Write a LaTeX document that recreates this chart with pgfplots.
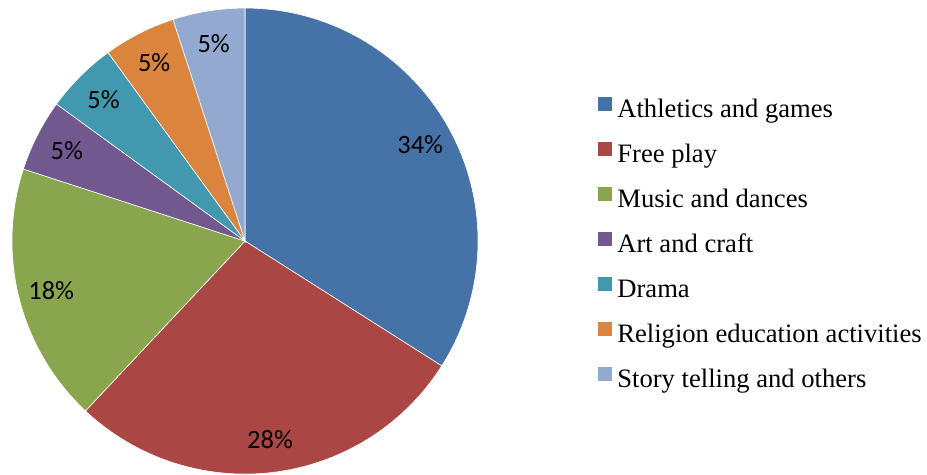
\documentclass[border=0pt]{standalone}
\usepackage{pgfplots}
\pgfplotsset{compat=1.18}
\usepackage{pgfplotstable}
\usetikzlibrary{calc}
\usepackage{fontspec}
\setmainfont{Liberation Serif}
\newfontfamily\pctfont{Carlito}

\definecolor{cA}{HTML}{4572A7}
\definecolor{cB}{HTML}{AA4643}
\definecolor{cC}{HTML}{89A54E}
\definecolor{cD}{HTML}{71588F}
\definecolor{cE}{HTML}{4198AF}
\definecolor{cF}{HTML}{DB843D}
\definecolor{cG}{HTML}{93A9CF}

% share of each activity, in percent
\pgfplotstableread{
value color
34 cA
28 cB
18 cC
5  cD
5  cE
5  cF
5  cG
}\piedata

\begin{document}
\begin{tikzpicture}
\begin{axis}[
    name=pie,
    width=463.5pt, height=237pt,
    scale only axis,
    xmin=0, xmax=927, ymin=0, ymax=474,
    hide axis, clip=false,
    legend image code/.code={\fill[#1, draw=none] (0pt,0.25pt) rectangle (7pt,7.25pt);},
    legend cell align=left,
    legend style={
        at={(598/927,377/474)}, anchor=north west,
        draw=none, fill=none, inner sep=0pt,
        font=\fontsize{13.3}{15}\selectfont,
        nodes={inner sep=0pt, text height=9pt, text depth=3pt},
        row sep=9.2pt, column sep=2.5pt
    }
]
    \addlegendimage{fill=cA}
    \addlegendimage{fill=cB}
    \addlegendimage{fill=cC}
    \addlegendimage{fill=cD}
    \addlegendimage{fill=cE}
    \addlegendimage{fill=cF}
    \addlegendimage{fill=cG}
    \legend{Athletics and games, Free play, Music and dances, Art and craft,
        Drama, Religion education activities, Story telling and others}

    \pgfplotsextra{
        \pgfplotstablegetrowsof{\piedata}
        \pgfmathtruncatemacro\nrows{\pgfplotsretval-1}
        \xdef\angA{90}
        \foreach \i in {0,...,\nrows}{
            \pgfplotstablegetelem{\i}{value}\of\piedata \let\val\pgfplotsretval
            \pgfplotstablegetelem{\i}{color}\of\piedata \let\col\pgfplotsretval
            \pgfmathsetmacro\angB{\angA-3.6*\val}
            \pgfmathsetmacro\angM{(\angA+\angB)/2}
            \fill[fill=\col, draw=white, line width=0.3pt]
                (axis cs:245,233) -- ++(\angA:116.5pt)
                arc[start angle=\angA, end angle=\angB, radius=116.5pt] -- cycle;
            \node[font=\pctfont\fontsize{13.2}{15}\selectfont]
                at ($(axis cs:245,233)+(\angM:100pt)$) {\val\%};
            \xdef\angA{\angB}
        }
    }
\end{axis}
\pgfresetboundingbox
\path (pie.south west) rectangle (pie.north east);
\end{tikzpicture}
\end{document}
